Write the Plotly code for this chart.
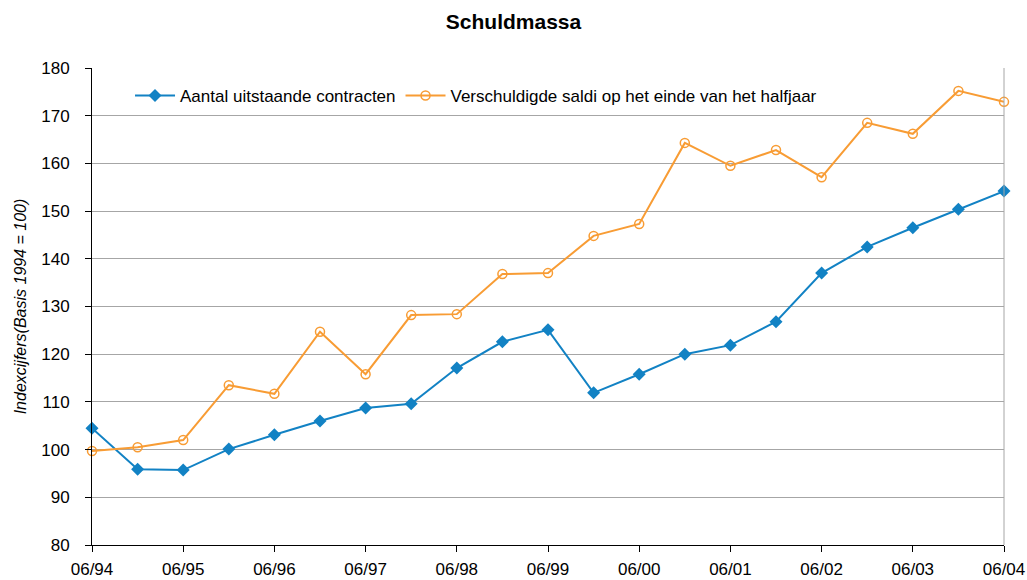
import plotly.graph_objects as go

periods = ["06/94", "12/94", "06/95", "12/95", "06/96", "12/96", "06/97", "12/97",
           "06/98", "12/98", "06/99", "12/99", "06/00", "12/00", "06/01", "12/01",
           "06/02", "12/02", "06/03", "12/03", "06/04"]
contracten = [104.5, 95.9, 95.7, 100.1, 103.1, 106.0, 108.7, 109.6, 117.1, 122.6, 125.1,
              111.9, 115.8, 120.0, 121.9, 126.8, 137.0, 142.5, 146.5, 150.4, 154.2]
saldi = [99.7, 100.5, 102.0, 113.5, 111.7, 124.7, 115.8, 128.2, 128.4, 136.8, 137.0,
         144.8, 147.3, 164.3, 159.5, 162.8, 157.1, 168.5, 166.2, 175.2, 172.9]
tick_labels = ["06/94", "06/95", "06/96", "06/97", "06/98", "06/99", "06/00",
               "06/01", "06/02", "06/03", "06/04"]

xi = list(range(len(periods)))
tickvals = [periods.index(t) for t in tick_labels]

blue = "#1282c4"
orange = "#f89c34"

fig = go.Figure()
fig.add_trace(go.Scatter(x=xi, y=contracten, mode="lines+markers",
                         name="Aantal uitstaande contracten",
                         line=dict(color=blue, width=2),
                         marker=dict(symbol="diamond", size=10, color=blue),
                         cliponaxis=False))
fig.add_trace(go.Scatter(x=xi, y=saldi, mode="lines+markers",
                         name="Verschuldigde saldi op het einde van het halfjaar",
                         line=dict(color=orange, width=2),
                         marker=dict(symbol="circle-open", size=9, color=orange,
                                     line=dict(width=1.5, color=orange)),
                         cliponaxis=False))

fig.update_layout(
    width=1027, height=580,
    margin=dict(l=92, r=23, t=68, b=35, autoexpand=False),
    paper_bgcolor="white", plot_bgcolor="white",
    font=dict(family="Liberation Sans, Arial, sans-serif", size=17, color="black"),
    title=dict(text="<b>Schuldmassa</b>", x=0.5, xanchor="center",
               yref="container", y=0.962, yanchor="middle",
               font=dict(size=21, color="black"), automargin=False),
    showlegend=True,
    legend=dict(orientation="h", x=0.0417, y=0.979, xanchor="left", yanchor="top",
                bgcolor="rgba(0,0,0,0)", font=dict(size=17), itemwidth=40,
                traceorder="normal"),
    xaxis=dict(range=[0, 20], tickvals=tickvals, ticktext=tick_labels,
               showgrid=False, zeroline=False, showline=True, linecolor="black",
               linewidth=1, ticks="outside", ticklen=6, tickcolor="black",
               tickfont=dict(size=17), automargin=False, ticklabelstandoff=3),
    yaxis=dict(range=[80, 180], tickvals=list(range(80, 181, 10)),
               showgrid=True, gridcolor="#a6a6a6", gridwidth=1, zeroline=False,
               showline=True, linecolor="black", linewidth=1,
               ticks="outside", ticklen=6, tickcolor="black",
               tickfont=dict(size=17), automargin=False, ticklabelstandoff=12,
               title=dict(text="<i>Indexcijfers(Basis 1994 = 100)</i>",
                          font=dict(size=16), standoff=10)),
)
fig.add_shape(type="line", xref="paper", yref="paper", x0=1, x1=1, y0=0, y1=1,
              line=dict(color="#a6a6a6", width=1))

fig.write_html("out.html", config={"displayModeBar": False},
               post_script="document.body.style.margin='0';document.body.style.overflow='hidden';")
